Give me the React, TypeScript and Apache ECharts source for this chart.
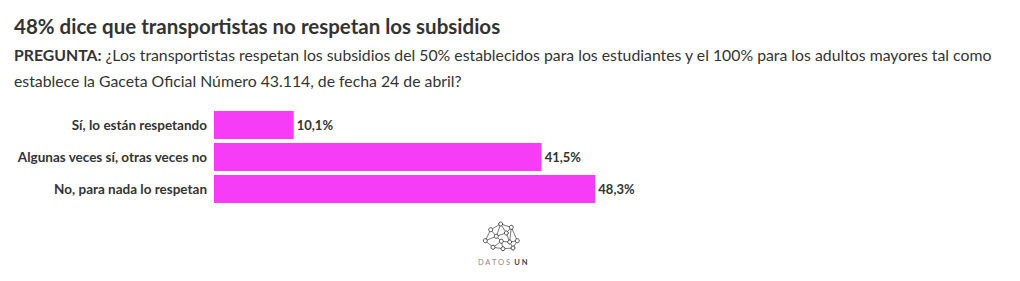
import React, { useEffect, useRef } from "react";
import * as echarts from "echarts";

const categories = [
  "Sí, lo están respetando",
  "Algunas veces sí, otras veces no",
  "No, para nada lo respetan",
];
const values = [10.1, 41.5, 48.3];

const titleText = "48% dice que transportistas no respetan los subsidios";
const questionLead = "PREGUNTA:";
const questionLine1 =
  " ¿Los transportistas respetan los subsidios del 50% establecidos para los estudiantes y el 100% para los adultos mayores tal como";
const questionLine2 =
  "establece la Gaceta Oficial Número 43.114, de fecha 24 de abril?";

const FONT = "Lato, 'Noto Sans', sans-serif";
const BAR = "#f73cf7";
const INK = "#333333";

// Logo network: node positions (page coordinates) and edges
const logoNodes: [number, number][] = [
  [500.7, 224], [511.3, 227.3], [490.7, 229.7], [485.3, 240.7],
  [496.3, 236.3], [501.3, 241.3], [509.7, 242], [517.3, 240.7],
  [493, 247.3], [503, 248.7], [513, 248], [506.3, 233],
];
const logoEdges: [number, number][] = [
  [0, 1], [0, 2], [0, 4], [0, 11], [1, 11], [1, 7], [1, 6], [2, 3], [2, 4],
  [3, 4], [3, 8], [4, 5], [4, 11], [5, 8], [5, 9], [5, 6], [6, 11], [6, 7],
  [6, 10], [7, 10], [9, 10], [8, 9],
];

// body margin offset
const OFF = 8;

function formatValue(v: number) {
  return v.toFixed(1).replace(".", ",") + "%";
}

export default function App() {
  const ref = useRef<HTMLDivElement>(null);

  useEffect(() => {
    if (!ref.current) return;
    const chart = echarts.init(ref.current, undefined, { renderer: "svg" });

    const graphics: any[] = [];
    logoEdges.forEach(([a, b]) => {
      graphics.push({
        type: "line",
        shape: {
          x1: logoNodes[a][0] - OFF, y1: logoNodes[a][1] - OFF,
          x2: logoNodes[b][0] - OFF, y2: logoNodes[b][1] - OFF,
        },
        style: { stroke: "#555", lineWidth: 0.8 },
        silent: true,
      });
    });
    logoNodes.forEach(([x, y]) => {
      graphics.push({
        type: "circle",
        shape: { cx: x - OFF, cy: y - OFF, r: 2 },
        style: { fill: "#fff", stroke: "#444", lineWidth: 1 },
        silent: true,
      });
    });
    graphics.push({
      type: "text",
      x: 478 - OFF,
      y: 256 - OFF,
      style: {
        text: "{a|D A T O S} {b|U N}",
        rich: {
          a: { fontFamily: FONT, fontSize: 7.5, fill: "#8a8a8a" },
          b: { fontFamily: FONT, fontSize: 7.5, fontWeight: "bold", fill: "#444" },
        },
      },
      silent: true,
    });

    chart.setOption({
      animation: false,
      title: {
        left: 6,
        top: 7,
        padding: 0,
        text: titleText,
        textStyle: {
          fontFamily: FONT,
          fontSize: 20.5,
          fontWeight: "bold",
          color: INK,
        },
        subtext: `{b|${questionLead}}${questionLine1}\n${questionLine2}`,
        itemGap: 5,
        subtextStyle: {
          fontFamily: FONT,
          fontSize: 15.8,
          color: INK,
          lineHeight: 26,
          rich: {
            b: { fontFamily: FONT, fontSize: 15.8, fontWeight: "bold", color: INK, lineHeight: 26 },
          },
        },
      },
      grid: { left: 206, right: 8.5, top: 101, height: 96, containLabel: false },
      xAxis: {
        type: "value",
        min: 0,
        max: 100,
        show: false,
      },
      yAxis: {
        type: "category",
        inverse: true,
        data: categories,
        axisLine: { show: false },
        axisTick: { show: false },
        axisLabel: {
          margin: 7,
          fontFamily: FONT,
          fontSize: 13.5,
          fontWeight: "bold",
          color: INK,
        },
      },
      series: [
        {
          type: "bar",
          data: values,
          barCategoryGap: "12.5%",
          itemStyle: { color: BAR },
          label: {
            show: true,
            position: "right",
            distance: 3,
            formatter: (p: any) => formatValue(p.value),
            fontFamily: FONT,
            fontSize: 13,
            fontWeight: "bold",
            color: INK,
          },
        },
      ],
      graphic: graphics,
    });

    return () => chart.dispose();
  }, []);

  return <div ref={ref} style={{ width: 1004, height: 265 }} />;
}
